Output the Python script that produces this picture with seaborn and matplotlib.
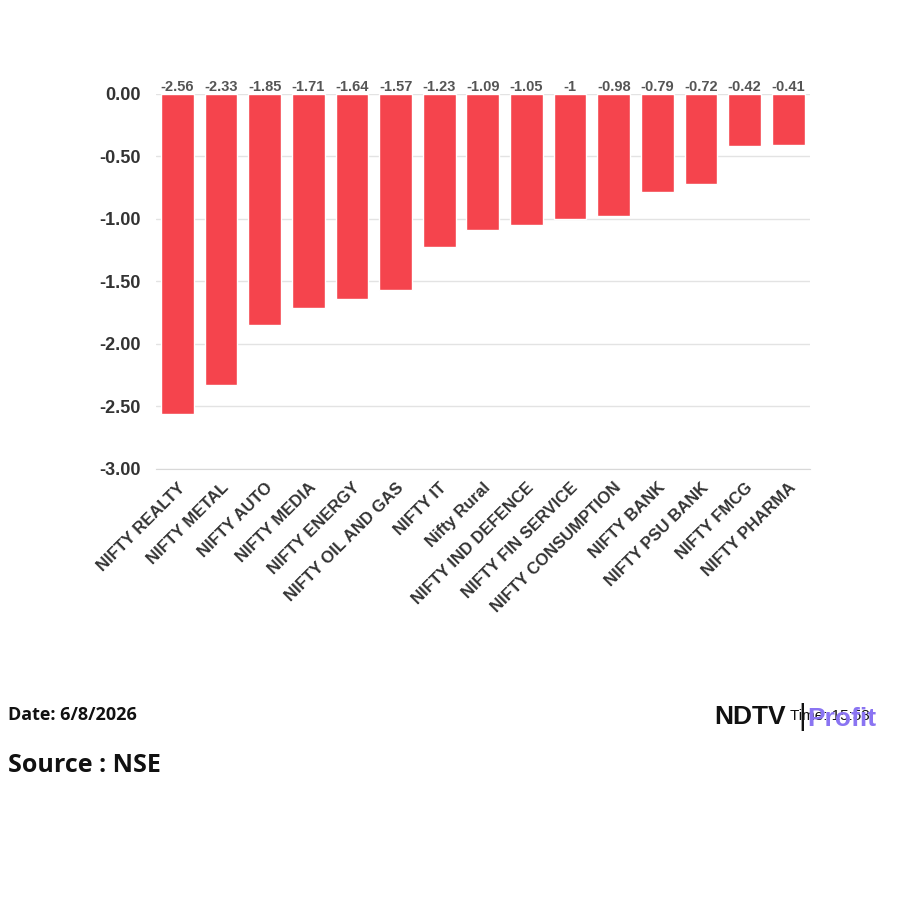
import matplotlib
matplotlib.use("Agg")
import matplotlib.pyplot as plt
import seaborn as sns
import pandas as pd

# sector index changes (%)
sectors = ["NIFTY REALTY", "NIFTY METAL", "NIFTY AUTO", "NIFTY MEDIA", "NIFTY ENERGY",
           "NIFTY OIL AND GAS", "NIFTY IT", "Nifty Rural", "NIFTY IND DEFENCE",
           "NIFTY FIN SERVICE", "NIFTY CONSUMPTION", "NIFTY BANK", "NIFTY PSU BANK",
           "NIFTY FMCG", "NIFTY PHARMA"]
changes = [-2.56, -2.33, -1.85, -1.71, -1.64, -1.57, -1.23, -1.09, -1.05,
           -1.0, -0.98, -0.79, -0.72, -0.42, -0.41]
yticks = [0.0, -0.5, -1.0, -1.5, -2.0, -2.5, -3.0]

df = pd.DataFrame({"sector": sectors, "change": changes})

sns.set_style("white")
plt.rcParams["font.family"] = ["Liberation Sans", "DejaVu Sans"]

fig = plt.figure(figsize=(9, 9), dpi=100)
ax = fig.add_axes([0.173, 0.479, 0.727, 0.417])

sns.barplot(data=df, x="sector", y="change", color="#f5444d", saturation=1,
            width=0.75, ax=ax, zorder=3)

ax.set_ylim(-3.0, 0.0)
ax.set_xlim(-0.5, len(sectors) - 0.5)
ax.set_yticks(yticks)
ax.set_yticklabels([f"{v:.2f}" for v in yticks], fontsize=13, fontweight="bold", color="#333333")
ax.grid(axis="y", color="#e3e3e3", linewidth=1, zorder=0)
ax.set_xlabel("")
ax.set_ylabel("")
for s in ["top", "right", "left"]:
    ax.spines[s].set_visible(False)
ax.spines["bottom"].set_color("#d8d8d8")
ax.tick_params(axis="y", length=0, pad=11)

# category boundary tick marks
ax.set_xticks([i - 0.5 for i in range(len(sectors) + 1)], minor=True)
ax.tick_params(axis="x", which="minor", length=7, color="#d8d8d8", width=1)
ax.set_xticks(range(len(sectors)))
ax.set_xticklabels(sectors, rotation=45, ha="right", rotation_mode="anchor",
                   fontsize=12, fontweight="bold", color="#333333")
ax.tick_params(axis="x", which="major", length=0, pad=8)

# value labels above the zero line
for i, v in enumerate(changes):
    lbl = f"{v:g}"
    ax.text(i, 0.0, lbl, ha="center", va="bottom", fontsize=10.5, fontweight="bold",
            color="#555555", zorder=4)

# footer
fig.text(0.009, 0.205, "Date: 6/8/2026", fontsize=13, fontweight="bold",
         family=["Open Sans", "DejaVu Sans"], color="#111111", va="center")
fig.text(0.009, 0.149, "Source : NSE", fontsize=18, fontweight="bold",
         family=["Open Sans", "DejaVu Sans"], color="#111111", va="center")
# logo with the time stamp partly behind it, as in the source
fig.text(0.878, 0.204, "Time: 15:58", fontsize=11, color="#111111", va="center", ha="left",
         zorder=1)
fig.text(0.794, 0.203, "NDTV", fontsize=19, fontweight="bold", color="#111111",
         va="center", ha="left", family=["Liberation Sans"], zorder=2)
fig.text(0.887, 0.203, "|", fontsize=21, color="#111111", va="center", ha="left", zorder=2)
fig.text(0.897, 0.201, "Profit", fontsize=19, fontweight="bold", color="#8a74f2",
         va="center", ha="left", family=["Liberation Sans"], zorder=3)

fig.savefig("out.png", dpi=100, facecolor="white")
